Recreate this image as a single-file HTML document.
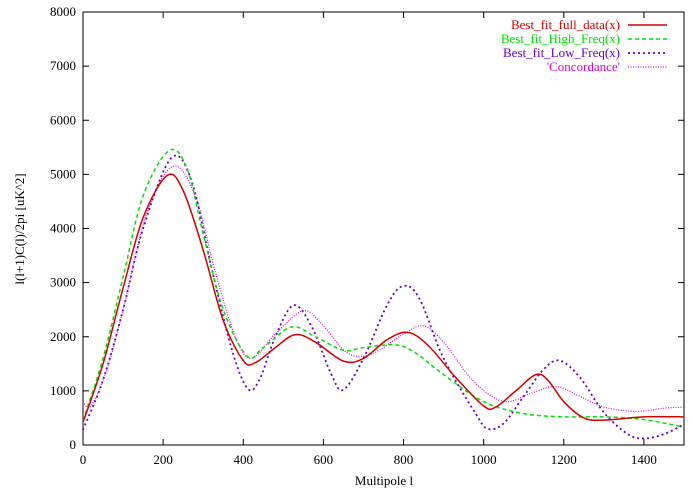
<!DOCTYPE html><html><head><style>body{margin:0;background:#fff}svg{display:block;font-family:"Liberation Serif",serif;font-size:13px}</style></head><body>
<svg id="s" width="693" height="491" xmlns="http://www.w3.org/2000/svg"></svg>
<script>
const s=document.getElementById('s');const L=83,R=684,T=12,B=445;
const X=v=>L+v*(R-L)/1500, Y=v=>B-v*(B-T)/8000;
let h='<rect x="'+L+'" y="'+T+'" width="'+(R-L)+'" height="'+(B-T)+'" fill="none" stroke="#000"/>';
for(let v=0;v<=8000;v+=1000){let y=Y(v);h+=`<line x1="${L}" x2="${L+6}" y1="${y}" y2="${y}" stroke="#000"/><line x1="${R}" x2="${R-6}" y1="${y}" y2="${y}" stroke="#000"/><text x="76" y="${y+4}" text-anchor="end">${v}</text>`;}
for(let v=0;v<=1400;v+=200){let x=X(v);h+=`<line x1="${x}" x2="${x}" y1="${B}" y2="${B-6}" stroke="#000"/><line x1="${x}" x2="${x}" y1="${T}" y2="${T+6}" stroke="#000"/><text x="${x}" y="464" text-anchor="middle">${v}</text>`;}
h+='<text x="384" y="485" text-anchor="middle">Multipole l</text>';
h+='<text transform="translate(24,229) rotate(-90)" text-anchor="middle">l(l+1)C(l)/2pi [uK^2]</text>';
const D={
r:[[0,420],[50,1500],[100,2900],[150,4200],[210,4980],[250,4700],[300,3600],[350,2300],[400,1560],[430,1520],[480,1800],[530,2040],[580,1900],[650,1550],[700,1600],[760,1950],[810,2080],[860,1850],[930,1250],[1000,720],[1030,700],[1080,1000],[1130,1300],[1160,1200],[1200,800],[1250,500],[1300,460],[1400,520],[1500,520]],
g:[[0,450],[50,1600],[100,3100],[150,4600],[215,5440],[260,5100],[300,3900],[350,2500],[410,1640],[450,1800],[520,2180],[580,2000],[650,1750],[700,1800],[780,1850],[830,1700],[900,1300],[1000,800],[1100,580],[1200,520],[1300,520],[1400,470],[1500,330]],
p:[[0,280],[50,1200],[100,2500],[150,4000],[220,5300],[270,4900],[320,3300],[370,1800],[410,1050],[440,1200],[480,2000],[525,2580],[570,2200],[620,1300],[650,1020],[700,1600],[760,2600],[800,2940],[840,2700],[900,1600],[980,580],[1010,300],[1050,400],[1100,900],[1150,1400],[1190,1560],[1240,1250],[1300,600],[1360,200],[1400,120],[1450,200],[1500,380]],
m:[[0,800],[20,720],[60,1400],[100,2500],[160,4300],[225,5150],[280,4600],[330,3200],[380,2000],[420,1600],[480,2050],[550,2480],[600,2200],[660,1700],[720,1680],[800,2050],[850,2200],[900,1900],[960,1300],[1010,950],[1060,800],[1120,960],[1180,1080],[1240,900],[1300,700],[1380,620],[1450,680],[1500,700]]};
function path(a){let p=a.map(q=>[X(q[0]),Y(q[1])]);let d=`M${p[0]}`;for(let i=0;i<p.length-1;i++){let p0=p[i-1]||p[i],p1=p[i],p2=p[i+1],p3=p[i+2]||p2;let c1=[p1[0]+(p2[0]-p0[0])/6,p1[1]+(p2[1]-p0[1])/6],c2=[p2[0]-(p3[0]-p1[0])/6,p2[1]-(p3[1]-p1[1])/6];d+=`C${c1} ${c2} ${p2}`;}return d;}
const st={r:['#d40000','','1.5'],g:['#00e000','4,3','1.5'],p:['#6a00c8','2,3','1.8'],m:['#e000e0','1,1.5','1.2']};
for(const k of ['m','p','g','r'])h+=`<path d="${path(D[k])}" fill="none" stroke="${st[k][0]}" stroke-width="${st[k][2]}" stroke-dasharray="${st[k][1]}"/>`;
const lg=[['r','Best_fit_full_data(x)',25],['g','Best_fit_High_Freq(x)',39],['p','Best_fit_Low_Freq(x)',53],['m','\'Concordance\'',67]];
for(const [k,t,y] of lg)h+=`<text x="620" y="${y+4}" text-anchor="end" fill="${st[k][0]}">${t}</text><line x1="628" x2="667" y1="${y}" y2="${y}" stroke="${st[k][0]}" stroke-width="${st[k][2]}" stroke-dasharray="${st[k][1]}"/>`;
s.innerHTML=h;
</script></body></html>
